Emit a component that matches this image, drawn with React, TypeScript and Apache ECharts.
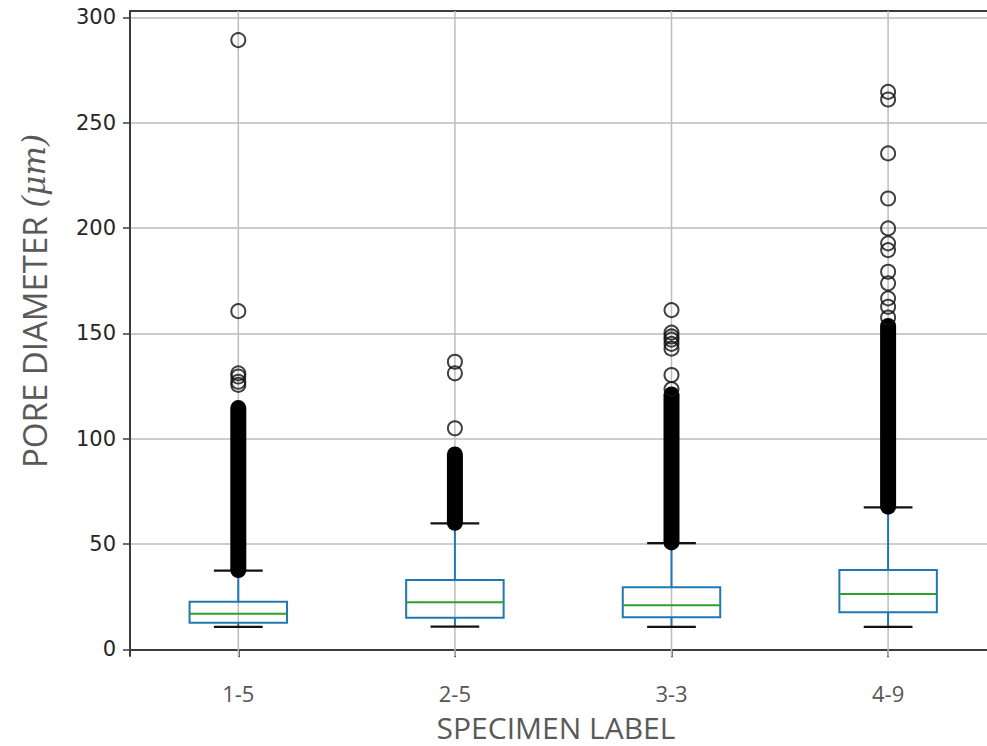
import React, { useEffect, useRef } from 'react';
import * as echarts from 'echarts';

const categories = ['1-5', '2-5', '3-3', '4-9'];
const whiskerLow = [10.6, 10.7, 10.6, 10.6];
const q1 = [12.6, 15.0, 15.2, 17.6];
const medians = [16.8, 22.3, 20.9, 26.2];
const q3 = [22.6, 32.9, 29.4, 37.6];
const whiskerHigh = [37.3, 59.8, 50.4, 67.4];
// ranges where thousands of outliers overlap into a solid column
const denseFlierLow = [37.6, 60.0, 50.7, 67.7];
const denseFlierHigh = [114.5, 92.5, 121.0, 153.5];
// individually visible outliers
const fliers15 = [125.5, 127.0, 129.5, 131.0, 160.5, 289.2];
const fliers25 = [104.9, 131.0, 136.5];
const fliers33 = [123.5, 130.2, 142.7, 145.0, 147.0, 148.5, 150.3, 161.0];
const fliers49 = [157.5, 162.6, 166.6, 173.7, 179.2, 189.5, 192.7, 199.8, 214.0, 235.4, 261.0, 264.6];
const yTicks = [0, 50, 100, 150, 200, 250, 300];
const yMin = -3.2;
const yMax = 303;

const BLUE = '#1f77b4';
const GREEN = '#2ca02c';
const SPINE = '#3c3c3c';
const GRID = '#bdbdbd';

export default function App() {
  const ref = useRef<HTMLDivElement>(null);
  useEffect(() => {
    document.body.style.margin = '0';
    const chart = echarts.init(ref.current!, undefined, { renderer: 'svg' });
    const boxData = categories.map((_, i) => [i, whiskerLow[i], q1[i], medians[i], q3[i], whiskerHigh[i]]);
    const denseData = categories.map((_, i) => [i, denseFlierLow[i], denseFlierHigh[i]]);
    const flierData: number[][] = [];
    [fliers15, fliers25, fliers33, fliers49].forEach((arr, i) => arr.forEach((v) => flierData.push([i, v])));

    chart.setOption({
      animation: false,
      backgroundColor: '#ffffff',
      grid: { left: 130, right: -9.4, top: 11, bottom: 90, outerBoundsMode: 'none', containLabel: false },
      xAxis: [
        {
          type: 'category',
          data: categories,
          boundaryGap: true,
          axisLine: { show: true, lineStyle: { color: SPINE, width: 2 } },
          axisTick: { show: true, alignWithLabel: true, length: 8, lineStyle: { color: SPINE, width: 1.5 } },
          axisLabel: { color: '#555555', fontFamily: 'Open Sans', fontSize: 22, margin: 26 },
          splitLine: { show: false },
        },
        {
          type: 'category',
          data: categories,
          position: 'top',
          axisLine: { show: true, lineStyle: { color: SPINE, width: 2 } },
          axisTick: { show: false },
          axisLabel: { show: false },
          splitLine: { show: false },
        },
      ],
      yAxis: {
        type: 'value',
        min: yMin,
        max: yMax,
        axisLine: { show: true, lineStyle: { color: SPINE, width: 2 } },
        axisTick: { show: true, length: 7, customValues: yTicks, lineStyle: { color: SPINE, width: 1.5 } },
        axisLabel: { customValues: yTicks, color: '#262626', fontFamily: 'DejaVu Sans', fontSize: 21, margin: 14 },
        splitLine: { show: true, lineStyle: { color: GRID, width: 1.5 } },
      },
      graphic: [
        {
          type: 'text',
          x: 34,
          y: 301,
          rotation: Math.PI / 2,
          style: {
            text: '{a|PORE DIAMETER }{b|(μm)}',
            align: 'center',
            verticalAlign: 'middle',
            rich: {
              a: { fontFamily: 'Open Sans', fontSize: 33, fill: '#595959' },
              b: { fontFamily: 'DejaVu Serif', fontStyle: 'italic', fontSize: 31, fill: '#595959' },
            },
          },
        },
        {
          type: 'text',
          x: 556,
          y: 727,
          style: {
            text: 'SPECIMEN LABEL',
            align: 'center',
            verticalAlign: 'middle',
            fontFamily: 'Open Sans',
            fontSize: 30,
            fill: '#595959',
          },
        },
      ],
      series: [
        {
          type: 'custom',
          name: 'vgrid',
          z: 1,
          data: categories.map((_, i) => [i]),
          renderItem: (params: any, api: any) => {
            const cs = params.coordSys;
            const x = api.coord([api.value(0), 0])[0];
            return {
              type: 'line',
              shape: { x1: x, y1: cs.y, x2: x, y2: cs.y + cs.height },
              style: { stroke: GRID, lineWidth: 1.5 },
            };
          },
        },
        {
          type: 'custom',
          name: 'boxes',
          z: 3,
          data: boxData,
          renderItem: (params: any, api: any) => {
            const i = api.value(0);
            const lo = api.coord([i, api.value(1)]);
            const b1 = api.coord([i, api.value(2)]);
            const md = api.coord([i, api.value(3)]);
            const b3 = api.coord([i, api.value(4)]);
            const hi = api.coord([i, api.value(5)]);
            const band = api.size([1, 0])[0];
            const bw = band * 0.45;
            const cw = bw / 2;
            const cx = lo[0];
            return {
              type: 'group',
              children: [
                { type: 'line', shape: { x1: cx, y1: lo[1], x2: cx, y2: b1[1] }, style: { stroke: BLUE, lineWidth: 2 } },
                { type: 'line', shape: { x1: cx, y1: b3[1], x2: cx, y2: hi[1] }, style: { stroke: BLUE, lineWidth: 2 } },
                {
                  type: 'rect',
                  shape: { x: cx - bw / 2, y: b3[1], width: bw, height: b1[1] - b3[1] },
                  style: { fill: 'none', stroke: BLUE, lineWidth: 2 },
                },
                { type: 'line', shape: { x1: cx - bw / 2, y1: md[1], x2: cx + bw / 2, y2: md[1] }, style: { stroke: GREEN, lineWidth: 2 } },
                { type: 'line', shape: { x1: cx - cw / 2, y1: lo[1], x2: cx + cw / 2, y2: lo[1] }, style: { stroke: '#111', lineWidth: 2.2 } },
                { type: 'line', shape: { x1: cx - cw / 2, y1: hi[1], x2: cx + cw / 2, y2: hi[1] }, style: { stroke: '#111', lineWidth: 2.2 } },
              ],
            };
          },
        },
        {
          type: 'custom',
          name: 'dense fliers',
          z: 4,
          data: denseData,
          renderItem: (params: any, api: any) => {
            const i = api.value(0);
            const a = api.coord([i, api.value(1)]);
            const b = api.coord([i, api.value(2)]);
            const r = 8;
            return {
              type: 'rect',
              shape: { x: a[0] - r, y: b[1] - r, width: 2 * r, height: a[1] - b[1] + 2 * r, r },
              style: { fill: '#000' },
            };
          },
        },
        {
          type: 'scatter',
          name: 'fliers',
          z: 5,
          symbol: 'circle',
          symbolSize: 14,
          data: flierData,
          itemStyle: { color: 'rgba(0,0,0,0)', borderColor: '#111', borderWidth: 2 },
        },
      ],
    });
    return () => chart.dispose();
  }, []);
  return <div ref={ref} style={{ position: 'fixed', left: 0, top: 0, width: 987, height: 746 }} />;
}
